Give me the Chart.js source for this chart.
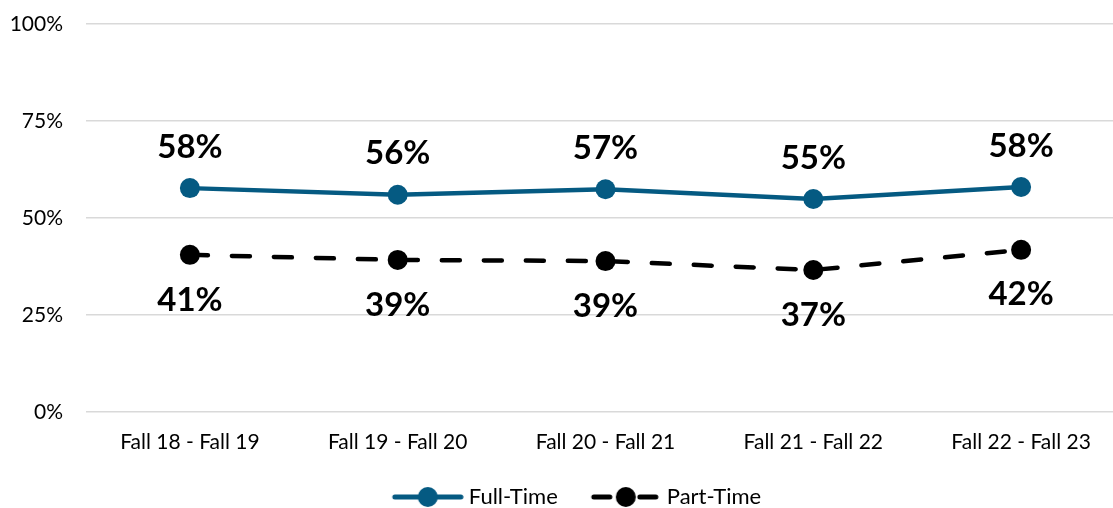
<!DOCTYPE html>
<html>
<head>
<meta charset="utf-8">
<script src="https://cdn.jsdelivr.net/npm/chart.js@4.4.1/dist/chart.umd.min.js"></script>
<style>
  html, body { margin: 0; padding: 0; background: #fff; overflow: hidden; }
  #retention-chart { display: block; width: 1125px; height: 508px; }
</style>
</head>
<body>
<canvas id="retention-chart" width="1125" height="508"></canvas>
<script>
const categories = ['Fall 18 - Fall 19', 'Fall 19 - Fall 20', 'Fall 20 - Fall 21', 'Fall 21 - Fall 22', 'Fall 22 - Fall 23'];
const fullTime = [57.7, 56.0, 57.4, 54.9, 58.0];
const partTime = [40.5, 39.2, 38.9, 36.6, 41.8];
const yTicks = [0, 25, 50, 75, 100];

const BLUE = '#055a82';
const FONT = 'Lato, "Open Sans", sans-serif';
const LEGEND_BOX = 94;

// legend marker: short line with a dot, pushed to the right end of the image
function legendMarker(color, dashed) {
    const c = document.createElement('canvas');
    c.width = LEGEND_BOX + 12; c.height = 22;
    const g = c.getContext('2d');
    const x0 = c.width - 72;
    g.strokeStyle = color;
    g.fillStyle = color;
    g.lineWidth = 5;
    g.lineCap = 'round';
    if (dashed) {
        g.beginPath(); g.moveTo(x0 + 4, 11); g.lineTo(x0 + 20, 11); g.stroke();
        g.beginPath(); g.moveTo(x0 + 50, 11); g.lineTo(x0 + 66, 11); g.stroke();
    } else {
        g.beginPath(); g.moveTo(x0 + 3, 11); g.lineTo(x0 + 69, 11); g.stroke();
    }
    g.beginPath(); g.arc(x0 + 36, 11, 10, 0, Math.PI * 2); g.fill();
    return c;
}

// value labels above (full-time) and below (part-time) the points
const valueLabels = {
    id: 'valueLabels',
    afterDatasetsDraw(chart) {
        const ctx = chart.ctx;
        ctx.save();
        ctx.font = 'bold 33px ' + FONT;
        ctx.fillStyle = '#000';
        ctx.textAlign = 'center';
        ctx.textBaseline = 'middle';
        chart.data.datasets.forEach((ds, di) => {
            const meta = chart.getDatasetMeta(di);
            const off = di === 0 ? -41 : 45;
            meta.data.forEach((pt, i) => {
                ctx.fillText(Math.round(ds.data[i]) + '%', pt.x, pt.y + off);
            });
        });
        ctx.restore();
    }
};

new Chart(document.getElementById('retention-chart'), {
    type: 'line',
    data: {
        labels: categories,
        datasets: [{
            label: 'Full-Time',
            data: fullTime,
            borderColor: BLUE,
            backgroundColor: BLUE,
            borderWidth: 4.5,
            pointRadius: 10,
            pointHoverRadius: 10,
            pointBackgroundColor: BLUE,
            pointBorderWidth: 0,
            pointStyle: 'circle',
            tension: 0
        }, {
            label: 'Part-Time',
            data: partTime,
            borderColor: '#000',
            backgroundColor: '#000',
            borderWidth: 4.5,
            borderDash: [18, 24],
            borderCapStyle: 'round',
            pointRadius: 10,
            pointHoverRadius: 10,
            pointBackgroundColor: '#000',
            pointBorderWidth: 0,
            tension: 0
        }]
    },
    options: {
        responsive: false,
        animation: false,
        layout: { autoPadding: false, padding: { top: 24, left: 0, right: 0, bottom: -10 } },
        scales: {
            x: {
                offset: true,
                grid: { display: false, drawTicks: false, offset: true },
                border: { display: false },
                ticks: { color: '#000', font: { family: FONT, size: 21 }, padding: 18 },
                afterFit: (scale) => {
                    scale.height = 70;
                    scale.paddingLeft = 0;
                    scale.paddingRight = 0;
                }
            },
            y: {
                min: 0,
                max: 100,
                afterBuildTicks: (scale) => { scale.ticks = yTicks.map(v => ({ value: v })); },
                grid: { color: '#d9d9d9', lineWidth: 1.5, drawTicks: false },
                border: { display: false },
                ticks: {
                    color: '#000',
                    font: { family: FONT, size: 21 },
                    padding: 23,
                    callback: (value) => value + '%'
                },
                afterFit: (scale) => {
                    scale.width = 86;
                    scale.paddingTop = 0;
                    scale.paddingBottom = 0;
                }
            }
        },
        plugins: {
            tooltip: { enabled: false },
            legend: {
                position: 'bottom',
                labels: {
                    color: '#000',
                    font: { family: FONT, size: 22 },
                    usePointStyle: true,
                    pointStyleWidth: LEGEND_BOX,
                    boxHeight: 18,
                    padding: 4,
                    generateLabels: (chart) => chart.data.datasets.map((ds, i) => ({
                        text: ds.label,
                        datasetIndex: i,
                        fontColor: '#000',
                        pointStyle: legendMarker(ds.borderColor, i === 1),
                        lineWidth: 0,
                        hidden: false
                    }))
                }
            }
        }
    },
    plugins: [valueLabels]
});
</script>
</body>
</html>
